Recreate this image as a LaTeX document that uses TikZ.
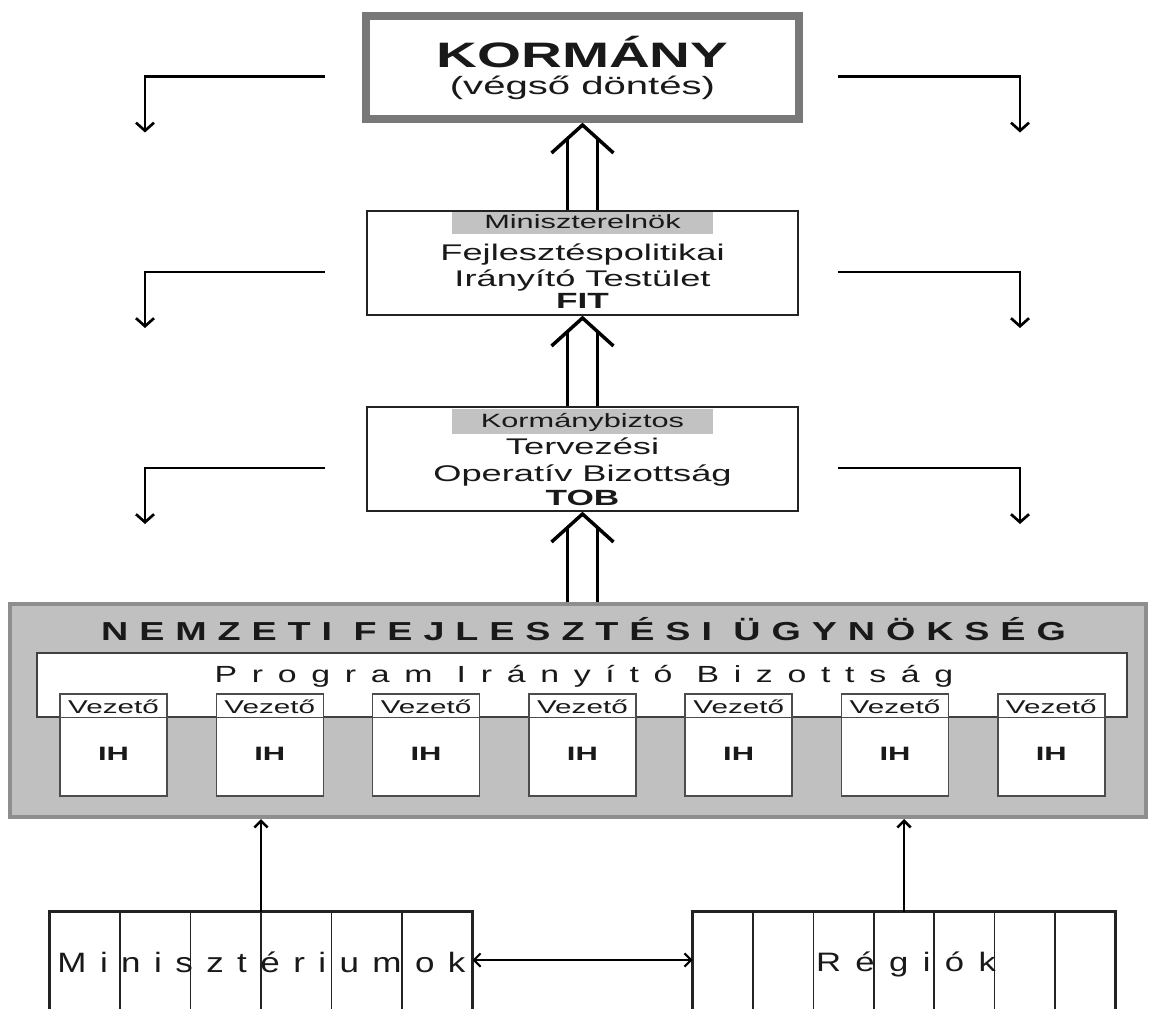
\documentclass[tikz,border=0pt]{standalone}
\usepackage{fontspec}
\setmainfont{Liberation Sans}[FakeStretch=1.6]
\newfontfamily\titlefont{Liberation Sans}[FakeStretch=1.45,LetterSpace=42]
\newfontfamily\pibfont{Liberation Sans}[FakeStretch=1.45,LetterSpace=63]
\newfontfamily\minifont{Liberation Sans}[FakeStretch=1.25,LetterSpace=48]
\newfontfamily\regiofont{Liberation Sans}[FakeStretch=1.3,LetterSpace=54]
\usetikzlibrary{arrows.meta,calc}

\definecolor{kormgray}{RGB}{120,120,120}
\definecolor{barbg}{RGB}{194,194,194}
\definecolor{nfufill}{RGB}{192,192,192}
\definecolor{nfuline}{RGB}{142,142,142}
\definecolor{inkline}{RGB}{35,35,35}

\newcommand{\upx}{0.75pt}
\newcommand{\fsz}[1]{\fontsize{#1}{#1}\selectfont}

\tikzset{every picture/.style={line width=0.75pt}}
\tikzset{
  govbox/.style={draw=kormgray, line width=6pt, fill=white, inner sep=0pt},
  midbox/.style={draw=inkline, line width=1.5pt, fill=white, inner sep=0pt},
  namebar/.style={fill=barbg, inner sep=0pt, anchor=north},
  nfubox/.style={draw=nfuline, line width=3pt, fill=nfufill, inner sep=0pt},
  pibbox/.style={draw=black!75, line width=1.1pt, fill=white, inner sep=0pt},
  ihbox/.style={draw=black!70, line width=1.1pt, fill=white, inner sep=0pt},
  colhead/.style={inner sep=0pt},
  txt/.style={inner sep=0pt, anchor=base, text=black!90},
  sidearrow/.style={line width=2pt, -{Straight Barb[length=6pt,width=13.5pt]}},
  dblline/.style={line width=2.3pt},
  dblhead/.style={line width=2.6pt, miter limit=10},
  uparrow/.style={line width=1.9pt, -{Straight Barb[length=5pt,width=10pt]}},
  bothways/.style={line width=1.5pt, {Straight Barb[length=5pt,width=10pt]}-{Straight Barb[length=5pt,width=10pt]}},
  outline/.style={line width=1.9pt, draw=inkline},
  colsep/.style={line width=1.1pt, draw=inkline}
}

% double arrow: lower node #1 up to upper node #2
\newcommand{\dblup}[2]{%
  \draw[dblhead] ($(#2.south)+(-31,30)$) -- ($(#2.south)+(0,2)$) -- ($(#2.south)+(31,30)$);
  \draw[dblline] ($(#2.south |- #1.north)+(-15,0)$) -- ($(#2.south)+(-15,16)$);
  \draw[dblline] ($(#2.south |- #1.north)+(15,0)$) -- ($(#2.south)+(15,16)$);
}

\begin{document}
\begin{tikzpicture}[x=0.75pt,y=0.75pt,yscale=-1,xscale=1]
\useasboundingbox (0,0) rectangle (1150,1009);
\clip (0,0) rectangle (1150,1009);

%Top box
\node[govbox, minimum width=433*\upx, minimum height=103*\upx] (gov) at (582.5,67.5) {};
\node[txt, font=\fsz{26.5}\bfseries] (govname) at ($(gov.center)+(0,0.5)$) {KORMÁNY};
\node[txt, font=\fsz{18.8}] (govnote) at ($(gov.center)+(0,27.5)$) {(végső döntés)};

%FIT
\node[midbox, minimum width=431*\upx, minimum height=104*\upx] (fit) at (582.5,263) {};
\node[namebar, minimum width=261*\upx, minimum height=22*\upx] (fitbar) at ($(fit.north)+(0,2)$) {};
\node[txt, font=\fsz{14.4}] (fithead) at ($(fit.center)+(0,-34)$) {Miniszterelnök};
\node[txt, font=\fsz{17}] (fitl1) at ($(fit.center)+(0,-2)$) {Fejlesztéspolitikai};
\node[txt, font=\fsz{17}] (fitl2) at ($(fit.center)+(0,24)$) {Irányító Testület};
\node[txt, font=\fsz{16.5}\bfseries] (fitl3) at ($(fit.center)+(0,46)$) {FIT};

%TOB
\node[midbox, minimum width=431*\upx, minimum height=104*\upx] (tob) at (582.5,459) {};
\node[namebar, minimum width=261*\upx, minimum height=25*\upx] (tobbar) at ($(tob.north)+(0,2)$) {};
\node[txt, font=\fsz{14.4}] (tobhead) at ($(tob.center)+(0,-32)$) {Kormánybiztos};
\node[txt, font=\fsz{17}] (tobl1) at ($(tob.center)+(0,-4)$) {Tervezési};
\node[txt, font=\fsz{17}] (tobl2) at ($(tob.center)+(0,22)$) {Operatív Bizottság};
\node[txt, font=\fsz{16.5}\bfseries] (tobl3) at ($(tob.center)+(0,46)$) {TOB};

%NFU
\node[nfubox, minimum width=1136*\upx, minimum height=213*\upx] (nfu) at (578,710.5) {};
\node[txt, font=\titlefont\fsz{19.5}\bfseries] (nfutitle) at (583.5,640) {NEMZETI FEJLESZTÉSI ÜGYNÖKSÉG};
\node[pibbox, minimum width=1090*\upx, minimum height=64*\upx] (pib) at (582,685) {};
\node[txt, font=\pibfont\fsz{17.5}] (pibtext) at (584,682) {Program Irányító Bizottság};
\foreach \i in {1,...,7}{
  \node[ihbox, minimum width=107*\upx, minimum height=102*\upx] (ih\i) at ({113.5+156.3*(\i-1)},745) {};
  \draw[draw=black!70, line width=1.1pt] (ih\i.west |- pib.south) -- (ih\i.east |- pib.south);
  \node[txt, font=\fsz{13.9}] (vez\i) at ($(ih\i.north)+(0,20)$) {Vezető};
  \node[txt, font=\fsz{14.5}\bfseries] (ihname\i) at ($(ih\i.center)+(0,15)$) {IH};
}

%Bottom boxes
\node[colhead, minimum width=422*\upx, minimum height=96*\upx] (mini) at (261,960) {};
\draw[outline] ($(mini.south west)+(0,20)$) |- (mini.north east) -- ($(mini.south east)+(0,20)$);
\foreach \k in {1,...,5}
  \draw[colsep] ($(mini.north west)!\k/6!(mini.north east)$) -- ++(0,120);
\node[txt, font=\minifont\fsz{21}] (minitext) at (261.5,972) {Minisztériumok};

\node[colhead, minimum width=422*\upx, minimum height=96*\upx] (regio) at (904,960) {};
\draw[outline] ($(regio.south west)+(0,20)$) |- (regio.north east) -- ($(regio.south east)+(0,20)$);
\foreach \k in {1,...,6}
  \draw[colsep] ($(regio.north west)!\k/7!(regio.north east)$) -- ++(0,120);
\node[txt, font=\regiofont\fsz{20}] (regiotext) at (906,971) {Régiók};

%Arrows
\dblup{fit}{gov}
\dblup{tob}{fit}
\dblup{nfu}{tob}

\coordinate (leftA) at (325,0);
\coordinate (leftB) at (145,0);
\coordinate (rightA) at (838,0);
\coordinate (rightB) at (1020,0);
\foreach \b in {gov,fit,tob}{
  \draw[sidearrow] ($(\b.center -| leftA)+(0,9)$) -| ($(\b.center -| leftB)+(0,65)$);
  \draw[sidearrow] ($(\b.center -| rightA)+(0,9)$) -| ($(\b.center -| rightB)+(0,65)$);
}

\draw[uparrow] (mini.north) -- (mini.north |- nfu.south);
\draw[uparrow] (regio.north) -- (regio.north |- nfu.south);
\draw[bothways] (mini.east) -- (regio.west);

\end{tikzpicture}
\end{document}
